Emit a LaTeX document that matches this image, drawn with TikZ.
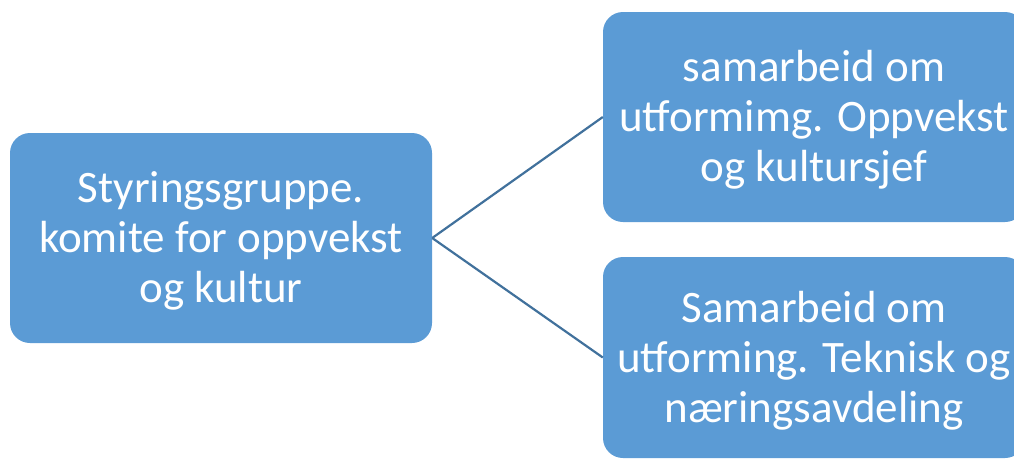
\documentclass[tikz,border=0pt]{standalone}
\usepackage{fontspec}
\setmainfont{Carlito}
\definecolor{boxblue}{HTML}{5B9BD5}
\definecolor{linkblue}{HTML}{41719C}
\begin{document}
\begin{tikzpicture}[x=1pt,y=-1pt,
  box/.style={fill=boxblue, rounded corners=20pt, text=white, align=center,
    inner sep=0pt, font=\fontsize{45}{50}\selectfont},
  link/.style={draw=linkblue, line width=2.2pt}]
\useasboundingbox (0,0) rectangle (1014,459);
\clip (0,0) rectangle (1014,459);
\node[box, minimum width=422pt, minimum height=210pt] (root) at (221,238)
  {\raisebox{-3pt}[\height][\depth]{\parbox{422pt}{\centering Styringsgruppe.\\komite for oppvekst\\og kultur}}};
\node[box, minimum width=422pt, minimum height=210pt] (top) at (814,117)
  {\raisebox{-3pt}[\height][\depth]{\parbox{422pt}{\centering samarbeid om\\utformimg. Oppvekst\\og kultursjef}}};
\node[box, minimum width=422pt, minimum height=201pt] (bot) at (814,357.5)
  {\raisebox{-3pt}[\height][\depth]{\parbox{422pt}{\centering Samarbeid om\\utforming. Teknisk og\\næringsavdeling}}};
\draw[link] (root.east) -- (top.west);
\draw[link] (root.east) -- (bot.west);
\end{tikzpicture}
\end{document}
